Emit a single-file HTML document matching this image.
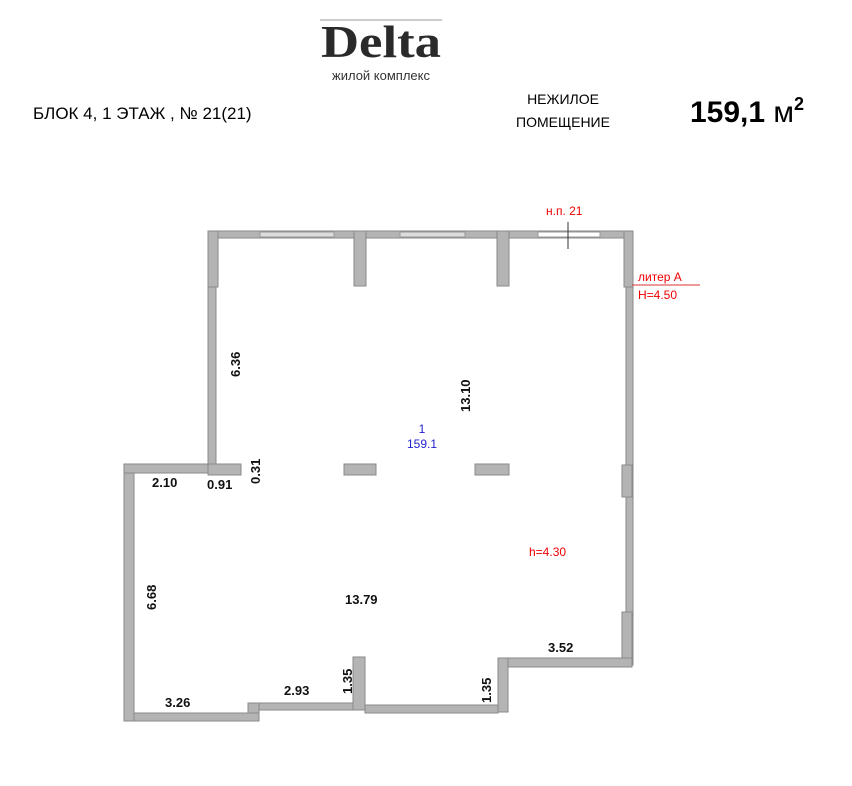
<!DOCTYPE html>
<html><head><meta charset="utf-8"><style>
body{margin:0;background:#fff;width:852px;height:781px;overflow:hidden;font-family:"Liberation Sans",sans-serif}
</style></head><body>
<svg width="852" height="781" xmlns="http://www.w3.org/2000/svg" font-family="Liberation Sans, sans-serif">
<line x1="320" y1="20" x2="442" y2="20" stroke="#999" stroke-width="1"/>
<text x="321" y="57" textLength="120" lengthAdjust="spacingAndGlyphs" font-family="Liberation Serif, serif" font-weight="bold" font-size="46" fill="#2a2a2a">Delta</text>
<text x="381" y="80" text-anchor="middle" font-size="13" fill="#333">жилой комплекс</text>
<text x="33" y="119" font-size="17" fill="#000">БЛОК 4, 1 ЭТАЖ , № 21(21)</text>
<text x="563" y="104" text-anchor="middle" font-size="14" fill="#000">НЕЖИЛОЕ</text>
<text x="563" y="127" text-anchor="middle" font-size="14" fill="#000">ПОМЕЩЕНИЕ</text>
<text x="690" y="122" font-size="30" font-weight="bold" fill="#000">159,1 <tspan font-weight="normal">м</tspan><tspan font-size="18" dy="-12">2</tspan></text>
<g fill="#b4b4b4" stroke="#8a8a8a" stroke-width="1">
<rect x="218" y="231" width="136" height="7"/>
<rect x="366" y="231" width="131" height="7"/>
<rect x="509" y="231" width="115" height="7"/>
<rect x="208" y="231" width="10" height="56"/>
<rect x="354" y="231" width="12" height="55"/>
<rect x="497" y="231" width="12" height="55"/>
<rect x="624" y="231" width="9" height="56"/>
<rect x="208" y="287" width="8" height="177"/>
<rect x="626" y="287" width="7" height="378"/>
<rect x="622" y="465" width="10" height="32"/>
<rect x="622" y="612" width="10" height="53"/>
<rect x="498" y="658" width="134" height="9"/>
<rect x="498" y="658" width="10" height="54"/>
<rect x="365" y="705" width="133" height="8"/>
<rect x="353" y="657" width="12" height="53"/>
<rect x="248" y="703" width="105" height="7"/>
<rect x="248" y="703" width="11" height="18"/>
<rect x="128" y="713" width="131" height="8"/>
<rect x="124" y="464" width="10" height="257"/>
<rect x="124" y="464" width="84" height="9"/>
<rect x="208" y="464" width="33" height="11"/>
<rect x="344" y="464" width="32" height="11"/>
<rect x="475" y="464" width="34" height="11"/>
</g>
<g fill="#dcdcdc" stroke="#9a9a9a" stroke-width="1">
<rect x="260" y="232" width="74" height="5"/>
<rect x="400" y="232" width="65" height="5"/>
</g>
<rect x="538" y="232" width="62" height="5" fill="#fff" stroke="#9a9a9a"/>
<line x1="568" y1="222" x2="568" y2="249" stroke="#333"/>
<line x1="632" y1="285" x2="700" y2="285" stroke="#d33" stroke-width="1"/>
<g fill="#e00" font-size="12">
<text x="546" y="215">н.п. 21</text>
<text x="638" y="281">литер А</text>
<text x="638" y="299">H=4.50</text>
<text x="529" y="556">h=4.30</text>
</g>
<g fill="#22c" font-size="12" text-anchor="middle">
<text x="422" y="433">1</text>
<text x="422" y="448">159.1</text>
</g>
<g fill="#111" font-size="13" font-weight="bold">
<text x="152" y="487">2.10</text>
<text x="207" y="489">0.91</text>
<text x="345" y="604">13.79</text>
<text x="548" y="652">3.52</text>
<text x="284" y="695">2.93</text>
<text x="165" y="707">3.26</text>
<text transform="translate(240,377) rotate(-90)">6.36</text>
<text transform="translate(470,412) rotate(-90)">13.10</text>
<text transform="translate(260,484) rotate(-90)">0.31</text>
<text transform="translate(156,610) rotate(-90)">6.68</text>
<text transform="translate(352,694) rotate(-90)">1.35</text>
<text transform="translate(491,703) rotate(-90)">1.35</text>
</g>
</svg>
</body></html>
